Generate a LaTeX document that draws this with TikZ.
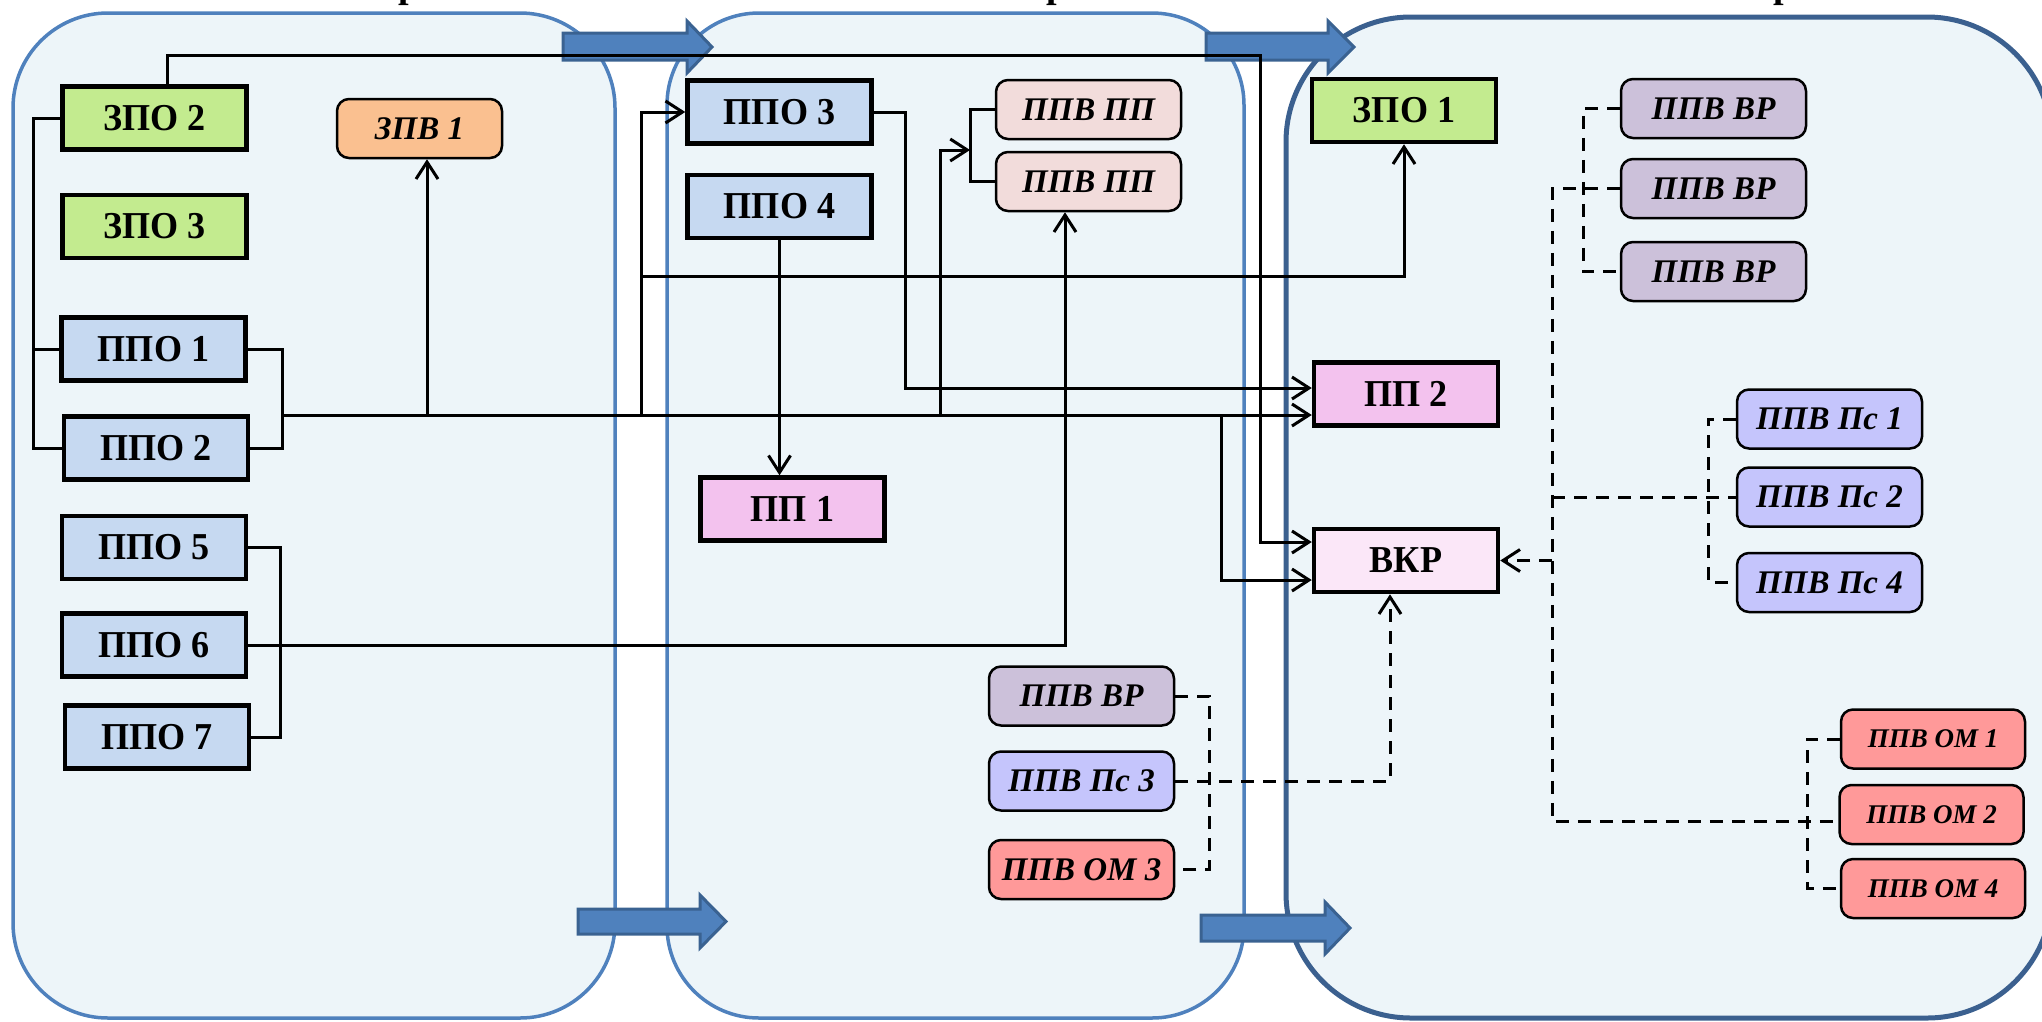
\documentclass[tikz,border=0pt]{standalone}
\usepackage{fontspec}
\setmainfont{Liberation Serif}
\newfontfamily\boxfont[FakeStretch=0.95]{Liberation Serif}
\usetikzlibrary{arrows.meta}
\definecolor{panelfill}{RGB}{237,245,249}
\definecolor{paneledge}{RGB}{79,129,189}
\definecolor{paneledgedark}{RGB}{59,96,143}
\definecolor{blkfill}{RGB}{79,129,189}
\definecolor{blkedge}{RGB}{58,98,145}
\definecolor{cgreen}{RGB}{195,235,143}
\definecolor{cppo}{RGB}{198,217,241}
\definecolor{cpeach}{RGB}{250,192,144}
\definecolor{cppvpp}{RGB}{242,220,219}
\definecolor{cpp}{RGB}{243,194,238}
\definecolor{cvkr}{RGB}{251,231,248}
\definecolor{cvr}{RGB}{204,193,218}
\definecolor{cps}{RGB}{197,197,252}
\definecolor{com}{RGB}{255,153,153}
\begin{document}
\begin{tikzpicture}[x=1pt,y=-1pt,
  conn/.style={line width=3pt},
  dconn/.style={line width=3pt, dash pattern=on 13pt off 9pt},
  arr/.style={-{Straight Barb[length=17pt,width=22pt]}},
  panel/.style={fill=panelfill, draw=paneledge, line width=3.5pt},
  blk/.style={fill=blkfill, draw=blkedge, line width=3pt, line join=miter},
  sq/.style={draw, line width=4.5pt, inner sep=0pt, minimum width=184pt, minimum height=63pt,
    font=\boxfont\fontsize{38}{40}\selectfont\bfseries},
  rb/.style={draw, line width=2.5pt, rounded corners=12pt, inner sep=0pt, minimum width=185pt,
    minimum height=59pt, font=\fontsize{33}{36}\selectfont\bfseries\itshape},
  rbs/.style={rb, font=\fontsize{27}{30}\selectfont\bfseries\itshape},
  cut/.style={anchor=base, inner sep=0pt, font=\fontsize{38}{40}\selectfont\bfseries}
]
\useasboundingbox (0,0) rectangle (2042,1021);
\begin{scope}
\clip (0,0) rectangle (2042,1021);
% panels
\draw[panel, rounded corners=95pt] (13,13) rectangle (615,1018);
\draw[panel, rounded corners=92pt] (667,13) rectangle (1244,1018);
\draw[panel, draw=paneledgedark, line width=5pt, rounded corners=125pt] (1286,17) rectangle (2052,1018);
% cut-off titles
\node[cut] (ttl1) at (409,-3) {р};
\node[cut] (ttl2) at (1057,-3) {р};
\node[cut] (ttl3) at (1784,-3) {р};
% block arrows
\draw[blk] (563,33) -- (687,33) -- (687,21) -- (712,47) -- (687,73) -- (687,60) -- (563,60) -- cycle;
\draw[blk] (1206,33) -- (1328,33) -- (1328,21) -- (1354,47) -- (1328,73) -- (1328,60) -- (1206,60) -- cycle;
\draw[blk] (578,909) -- (700,909) -- (700,895) -- (726,921.5) -- (700,948) -- (700,934) -- (578,934) -- cycle;
\draw[blk] (1201,915) -- (1325,915) -- (1325,902) -- (1350,928) -- (1325,954) -- (1325,941) -- (1201,941) -- cycle;
% panel 1 nodes
\node[sq, fill=cgreen] (zpo2) at (154.5,118) {ЗПО 2};
\node[sq, fill=cgreen] (zpo3) at (154.5,226.5) {ЗПО 3};
\node[rb, fill=cpeach, minimum width=165pt] (zpv1) at (419.5,128.5) {ЗПВ 1};
\node[sq, fill=cppo] (ppo1) at (153.5,349) {ППО 1};
\node[sq, fill=cppo] (ppo2) at (156,448) {ППО 2};
\node[sq, fill=cppo] (ppo5) at (154,547.5) {ППО 5};
\node[sq, fill=cppo] (ppo6) at (154,645) {ППО 6};
\node[sq, fill=cppo] (ppo7) at (157,737) {ППО 7};
% panel 2 nodes
\node[sq, fill=cppo] (ppo3) at (779.5,112) {ППО 3};
\node[sq, fill=cppo] (ppo4) at (779.5,206.5) {ППО 4};
\node[sq, fill=cpp] (pp1) at (792.5,509) {ПП 1};
\node[rb, fill=cppvpp] (ppvpp1) at (1088.5,109.5) {ППВ ПП};
\node[rb, fill=cppvpp] (ppvpp2) at (1088.5,181.5) {ППВ ПП};
\node[rb, fill=cvr] (ppvvr0) at (1081.5,696) {ППВ ВР};
\node[rb, fill=cps] (ppvps3) at (1081.5,781) {ППВ Пс 3};
\node[rb, fill=com] (ppvom3) at (1081.5,869.5) {ППВ ОМ 3};
% panel 3 nodes
\node[sq, fill=cgreen] (zpo1) at (1404,110.5) {ЗПО 1};
\node[sq, fill=cpp] (pp2) at (1406,394) {ПП 2};
\node[sq, fill=cvkr] (vkr) at (1406,560.5) {ВКР};
\node[rb, fill=cvr] (vr1) at (1713.5,108.5) {ППВ ВР};
\node[rb, fill=cvr] (vr2) at (1713.5,188.5) {ППВ ВР};
\node[rb, fill=cvr] (vr3) at (1713.5,271.5) {ППВ ВР};
\node[rb, fill=cps] (ps1) at (1829.5,419) {ППВ Пс 1};
\node[rb, fill=cps] (ps2) at (1829.5,497) {ППВ Пс 2};
\node[rb, fill=cps] (ps4) at (1829.5,582.5) {ППВ Пс 4};
\node[rbs, fill=com, minimum width=184pt] (om1) at (1933,739) {ППВ ОМ 1};
\node[rbs, fill=com, minimum width=184pt] (om2) at (1931.5,814.5) {ППВ ОМ 2};
\node[rbs, fill=com, minimum width=184pt] (om4) at (1933,888.5) {ППВ ОМ 4};
% junction coordinates
\coordinate (a1) at (167,55);
\coordinate (a2) at (1260,55);
\coordinate (a3) at (1260,542);
\coordinate (b0) at (33,0);
\coordinate (m0) at (282,415);
\coordinate (m1) at (427,415);
\coordinate (m2) at (641,415);
\coordinate (m3) at (641,276);
\coordinate (m4) at (940,415);
\coordinate (p0) at (970,0);
\coordinate (p1) at (970,150);
\coordinate (q1) at (905,388);
\coordinate (r1) at (1221,415);
\coordinate (r2) at (1221,580);
\coordinate (s0) at (280,0);
\coordinate (t1) at (1065,0);
\coordinate (u0) at (1209,0);
\coordinate (u1) at (1390,0);
\coordinate (v0) at (1583,0);
\coordinate (w0) at (1552,0);
\coordinate (w1) at (1552,821);
\coordinate (x0) at (1708,0);
\coordinate (y0) at (1807,0);
% solid connectors
\draw[conn, arr] (zpo2.north -| a1) -- (a1) -- (a2) -- (a3) -- (vkr.west |- a3);
\draw[conn] (zpo2.west) -- (zpo2.west -| b0) -- (ppo2.west -| b0) -- (ppo2.west);
\draw[conn] (ppo1.west) -- (ppo1.west -| b0);
\draw[conn] (ppo1.east) -- (ppo1.east -| m0) -- (ppo2.east -| m0) -- (ppo2.east);
\draw[conn, arr] (m0) -- (pp2.west |- m0);
\draw[conn, arr] (m1) -- (zpv1.south -| m1);
\draw[conn, arr] (m2) |- (ppo3.west);
\draw[conn, arr] (m3) -| (zpo1.south);
\draw[conn] (ppvpp1.west) -- (ppvpp1.west -| p0) -- (ppvpp2.west -| p0) -- (ppvpp2.west);
\draw[conn, arr] (m4) |- (p1);
\draw[conn, arr] (ppo3.east) -| (q1) -- (pp2.west |- q1);
\draw[conn, arr] (ppo4.south) -- (pp1.north -| ppo4.south);
\draw[conn, arr] (r1) -- (r2) -- (vkr.west |- r2);
\draw[conn] (ppo5.east) -- (ppo5.east -| s0) -- (ppo7.east -| s0) -- (ppo7.east);
\draw[conn, arr] (ppo6.east) -| (ppvpp2.south -| t1);
% dashed connectors
\draw[dconn] (ppvvr0.east) -- (ppvvr0.east -| u0) -- (ppvom3.east -| u0) -- (ppvom3.east);
\draw[dconn, arr] (ppvps3.east) -| (vkr.south -| u1);
\draw[dconn] (vr1.west) -- (vr1.west -| v0) -- (vr3.west -| v0) -- (vr3.west);
\draw[dconn] (vr2.west) -- (vr2.west -| w0) -- (w1) -- (om2.west |- w1);
\draw[dconn, arr] (vkr.east -| w0) -- (vkr.east);
\draw[dconn] (ps2.west -| w0) -- (ps2.west);
\draw[dconn] (ps1.west) -- (ps1.west -| x0) -- (ps4.west -| x0) -- (ps4.west);
\draw[dconn] (om1.west) -- (om1.west -| y0) -- (om4.west -| y0) -- (om4.west);
\end{scope}
\end{tikzpicture}
\end{document}
